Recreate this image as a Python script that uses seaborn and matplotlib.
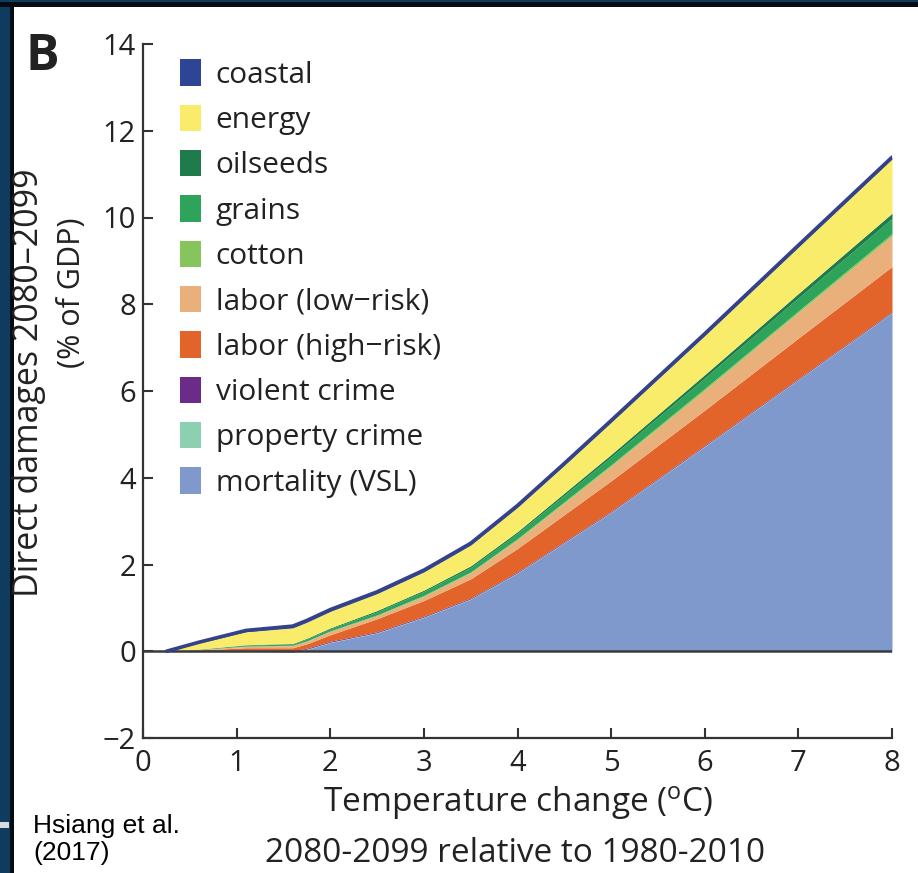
import numpy as np
import matplotlib
matplotlib.use("Agg")
import matplotlib.pyplot as plt
from matplotlib.patches import Patch, Rectangle
import seaborn as sns

# Temperature change (deg C), 2080-2099 relative to 1980-2010
temperature = [0.25, 0.6, 1.1, 1.6, 1.75, 2.0, 2.5, 3.0, 3.5, 4.0, 4.5, 5.0, 6.0, 7.0, 8.0]

# Direct damages by sector (% of GDP), stacked bottom to top
mortality_vsl  = [0, 0, 0, -0.02, 0.04, 0.2, 0.42, 0.78, 1.2, 1.8, 2.5, 3.2, 4.72, 6.26, 7.8]
property_crime = [0, 0, 0.01, 0.01, 0.01, 0.01, 0.01, 0.01, 0.01, 0.01, 0.01, 0.01, 0.01, 0.01, 0.01]
violent_crime  = [0, 0.01, 0.02, 0.02, 0.02, 0.02, 0.02, 0.02, 0.02, 0.02, 0.02, 0.02, 0.02, 0.02, 0.02]
labor_high     = [0, 0.02, 0.05, 0.07, 0.1, 0.15, 0.3, 0.36, 0.44, 0.54, 0.62, 0.7, 0.81, 0.93, 1.04]
labor_low      = [0, 0.01, 0.03, 0.05, 0.06, 0.08, 0.07, 0.1, 0.14, 0.2, 0.27, 0.34, 0.46, 0.59, 0.71]
cotton         = [0, 0, 0.01, 0.01, 0.01, 0.01, 0.02, 0.02, 0.02, 0.03, 0.03, 0.03, 0.04, 0.04, 0.05]
grains         = [0, 0.01, 0.02, 0.03, 0.04, 0.05, 0.07, 0.09, 0.1, 0.12, 0.15, 0.18, 0.24, 0.3, 0.35]
oilseeds       = [0, 0, 0.01, 0.01, 0.02, 0.02, 0.03, 0.03, 0.04, 0.04, 0.05, 0.06, 0.08, 0.1, 0.12]
energy         = [0, 0.14, 0.3, 0.36, 0.37, 0.38, 0.39, 0.42, 0.48, 0.56, 0.64, 0.74, 0.9, 1.07, 1.25]
coastal        = [0, 0.02, 0.03, 0.04, 0.04, 0.04, 0.04, 0.04, 0.04, 0.04, 0.04, 0.04, 0.04, 0.04, 0.04]

sector_labels = ["mortality (VSL)", "property crime", "violent crime", "labor (high\u2212risk)",
                 "labor (low\u2212risk)", "cotton", "grains", "oilseeds", "energy", "coastal"]
sector_values = [mortality_vsl, property_crime, violent_crime, labor_high, labor_low,
                 cotton, grains, oilseeds, energy, coastal]
sector_colors = ["#7f99cc", "#8ccfb1", "#6b2b89", "#e2642a", "#eab07c",
                 "#86c45c", "#2ea35a", "#1f7a4c", "#f8ec6a", "#2e4596"]

y_ticks = [-2, 0, 2, 4, 6, 8, 10, 12, 14]
x_ticks = [0, 1, 2, 3, 4, 5, 6, 7, 8]

sns.set_theme(style="ticks")
plt.rcParams["font.family"] = ["Open Sans", "DejaVu Sans"]
plt.rcParams["mathtext.fontset"] = "custom"
plt.rcParams["mathtext.rm"] = "Open Sans"

W, H = 918, 873
fig = plt.figure(figsize=(W / 100, H / 100), dpi=100)
fig.patch.set_facecolor("white")

# frame strips along the left and top edges
navy = "#0f3b5f"
fig.add_artist(Rectangle((0, 0), 10 / W, 1, transform=fig.transFigure, color=navy, lw=0))
fig.add_artist(Rectangle((10 / W, 0), 3.5 / W, 1, transform=fig.transFigure, color="#050b12", lw=0))
fig.add_artist(Rectangle((0, 1 - 2 / H), 1, 2 / H, transform=fig.transFigure, color=navy, lw=0))
fig.add_artist(Rectangle((0, 1 - 6.5 / H), 1, 4.5 / H, transform=fig.transFigure, color="#050b12", lw=0))
fig.add_artist(Rectangle((0, 1 - 828 / H), 9 / W, 6 / H, transform=fig.transFigure, color="#d5dade", lw=0))

x0, x1 = 143, 892
y_top, y_bot = 44, 738
ax = fig.add_axes([x0 / W, 1 - y_bot / H, (x1 - x0) / W, (y_bot - y_top) / H])
ax.set_facecolor("white")

x = np.array(temperature)
base = np.zeros_like(x)
for vals, col in zip(sector_values, sector_colors):
    top = base + np.array(vals)
    ax.fill_between(x, base, top, color=col, lw=0, zorder=2)
    base = top

ax.axhline(0, color="#3a3a3a", lw=1.8, zorder=3)
sns.lineplot(x=x, y=base, color="#34428a", lw=2.6, ax=ax, zorder=4)

ax.set_xlim(0, 8)
ax.set_ylim(-2, 14)
ax.set_xticks(x_ticks)
ax.set_yticks(y_ticks)
ax.set_yticklabels([str(t).replace("-", "\u2212") for t in y_ticks])
sns.despine(ax=ax)
for s in ["left", "bottom"]:
    ax.spines[s].set_color("#333333")
    ax.spines[s].set_linewidth(1.6)
ax.tick_params(direction="in", length=7, width=1.5, color="#333333", labelsize=21,
               labelcolor="#222222")
ax.tick_params(axis="x", pad=8)
ax.tick_params(axis="y", pad=5)
ax.set_xlabel("")
ax.set_ylabel("")

handles = [Patch(facecolor=c, edgecolor="none") for c in sector_colors][::-1]
ax.legend(handles, sector_labels[::-1], loc="upper left", bbox_to_anchor=(0.049, 0.978),
          frameon=False, fontsize=21.5, handlelength=0.73, handleheight=0.98,
          handletextpad=0.48, labelspacing=0.5, borderaxespad=0, borderpad=0,
          labelcolor="#222222")

txt = "#222222"
fig.text(25 / W, 1 - 70 / H, "B", fontsize=36, fontweight="bold", color=txt,
         ha="left", va="baseline")
fig.text(29 / W, 1 - 383 / H, "Direct damages 2080\u20132099", rotation=90, fontsize=24.5,
         color=txt, ha="center", va="center")
fig.text(72 / W, 1 - 293 / H, "(% of GDP)", rotation=90, fontsize=22,
         color=txt, ha="center", va="center")
fig.text(518 / W, 1 - 812 / H, r"Temperature change ($\mathrm{^{o}}$C)", fontsize=24,
         color=txt, ha="center", va="baseline")
fig.text(515 / W, 1 - 862 / H, "2080-2099 relative to 1980-2010", fontsize=24,
         color=txt, ha="center", va="baseline")
fig.text(33 / W, 1 - 833 / H, "Hsiang et al.", fontsize=19, family="Liberation Sans",
         color="black", ha="left", va="baseline")
fig.text(33 / W, 1 - 860 / H, "(2017)", fontsize=19, family="Liberation Sans",
         color="black", ha="left", va="baseline")

fig.savefig("out.png", dpi=100, facecolor="white")
